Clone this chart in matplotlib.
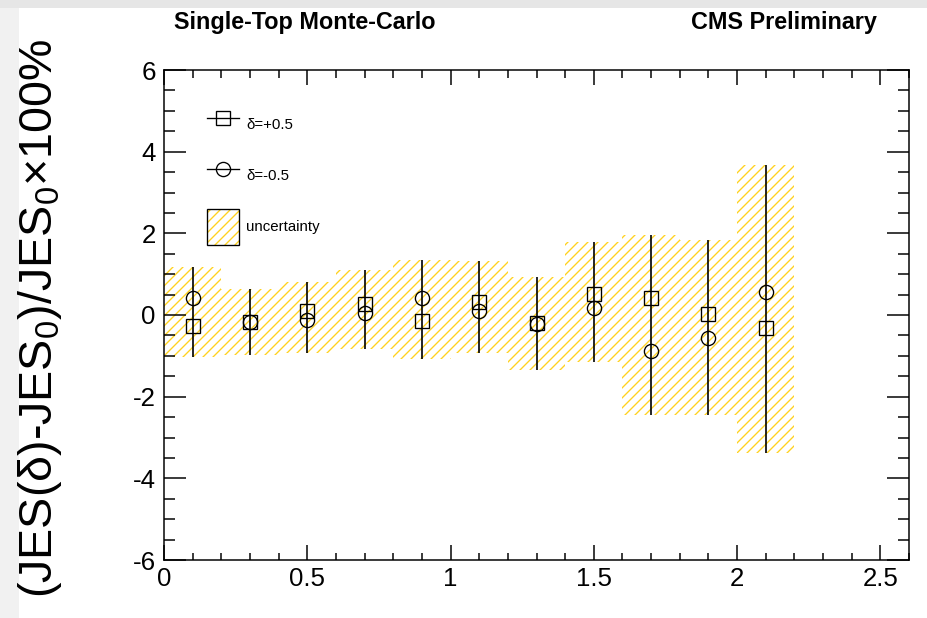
import matplotlib
matplotlib.use("Agg")
import matplotlib.pyplot as plt
from matplotlib.patches import Patch, Rectangle
from matplotlib.lines import Line2D
from matplotlib.legend_handler import HandlerTuple
from matplotlib.ticker import MultipleLocator, FuncFormatter

plt.rcParams['font.family'] = ['Liberation Sans', 'DejaVu Sans']
plt.rcParams['hatch.linewidth'] = 0.8

# bin edges / centres (eta bins of width 0.2)
bin_lo = [0.0, 0.2, 0.4, 0.6, 0.8, 1.0, 1.2, 1.4, 1.6, 1.8, 2.0]
bin_width = 0.2
centers = [0.1, 0.3, 0.5, 0.7, 0.9, 1.1, 1.3, 1.5, 1.7, 1.9, 2.1]

# relative JES shift in percent
shift_plus = [-0.28, -0.17, 0.09, 0.28, -0.15, 0.31, -0.2, 0.51, 0.41, 0.03, -0.33]
shift_minus = [0.42, -0.18, -0.12, 0.04, 0.41, 0.11, -0.21, 0.17, -0.87, -0.57, 0.57]

# uncertainty band
unc_hi = [1.18, 0.63, 0.82, 1.1, 1.35, 1.32, 0.94, 1.8, 1.96, 1.84, 3.68]
unc_lo = [-1.02, -0.98, -0.93, -0.83, -1.08, -0.94, -1.35, -1.14, -2.45, -2.45, -3.39]

hatch_col = '#ffd21f'
DPI = 120

fig = plt.figure(figsize=(927 / DPI, 618 / DPI), dpi=DPI)
fig.patch.set_facecolor('white')
# grey canvas edges
fig.patches.append(Rectangle((0, 0), 19 / 927, 1, transform=fig.transFigure,
                             facecolor='#f1f1f1', edgecolor='none', zorder=-5))
fig.patches.append(Rectangle((0, 1 - 8 / 618), 1, 8 / 618, transform=fig.transFigure,
                             facecolor='#e6e6e6', edgecolor='none', zorder=-4))

ax = fig.add_axes([164 / 927, 58 / 618, 745 / 927, 490 / 618])

# uncertainty band
heights = [h - l for h, l in zip(unc_hi, unc_lo)]
ax.bar(bin_lo, heights, bottom=unc_lo, width=bin_width, align='edge',
       fill=False, hatch='////', edgecolor=hatch_col, linewidth=0, zorder=1)

# error bars
ax.vlines(centers, unc_lo, unc_hi, color='black', linewidth=1.0, zorder=2)

ax.plot(centers, shift_plus, linestyle='none', marker='s', markersize=8,
        mfc='none', mec='black', mew=0.8, zorder=3)
ax.plot(centers, shift_minus, linestyle='none', marker='o', markersize=8.5,
        mfc='none', mec='black', mew=0.8, zorder=3)

ax.set_xlim(0, 2.6)
ax.set_ylim(-6, 6)

ax.xaxis.set_major_locator(MultipleLocator(0.5))
ax.xaxis.set_minor_locator(MultipleLocator(0.1))
ax.yaxis.set_major_locator(MultipleLocator(2))
ax.yaxis.set_minor_locator(MultipleLocator(0.5))
ax.xaxis.set_major_formatter(FuncFormatter(lambda v, p: '%g' % v))
ax.yaxis.set_major_formatter(FuncFormatter(lambda v, p: '%g' % v))

ax.tick_params(axis='both', which='both', direction='in', top=True, right=True,
               width=0.9, labelsize=15.5, colors='black')
ax.tick_params(axis='y', which='major', length=13.2, pad=5)
ax.tick_params(axis='y', which='minor', length=6.6)
ax.tick_params(axis='x', which='major', length=9, pad=4)
ax.tick_params(axis='x', which='minor', length=4.5)
for s in ax.spines.values():
    s.set_linewidth(0.9)

fig.text(40 / 927, 1 - 318 / 618, '(JES(δ)-JES$_\\mathregular{0}$)/JES$_\\mathregular{0}$×100%',
         rotation=90, ha='center', va='center', fontsize=28)

fig.text(305 / 927, 1 - 23 / 618, 'Single-Top Monte-Carlo', ha='center', va='center',
         fontsize=14, fontweight='bold')
fig.text(784 / 927, 1 - 23 / 618, 'CMS Preliminary', ha='center', va='center',
         fontsize=14, fontweight='bold')

# legend
h_plus = Line2D([], [], color='black', linewidth=0.8, marker='s', markersize=8,
                mfc='none', mec='black', mew=0.8)
h_minus = Line2D([], [], color='black', linewidth=0.8, marker='o', markersize=8.5,
                 mfc='none', mec='black', mew=0.8)
h_unc = (Patch(fill=False, hatch='////', edgecolor=hatch_col, linewidth=0),
         Patch(fill=False, edgecolor='black', linewidth=0.8))
ax.legend([h_plus, h_minus, h_unc], ['δ=+0.5', 'δ=-0.5', 'uncertainty'],
          handler_map={tuple: HandlerTuple(ndivide=1)},
          loc='upper left', bbox_to_anchor=(43 / 745, 1 - 37 / 490),
          frameon=False, fontsize=9, handlelength=2.15, handleheight=3.3,
          handletextpad=0.45, labelspacing=1.0, borderpad=0, borderaxespad=0)

fig.savefig('out.png', dpi=DPI)
